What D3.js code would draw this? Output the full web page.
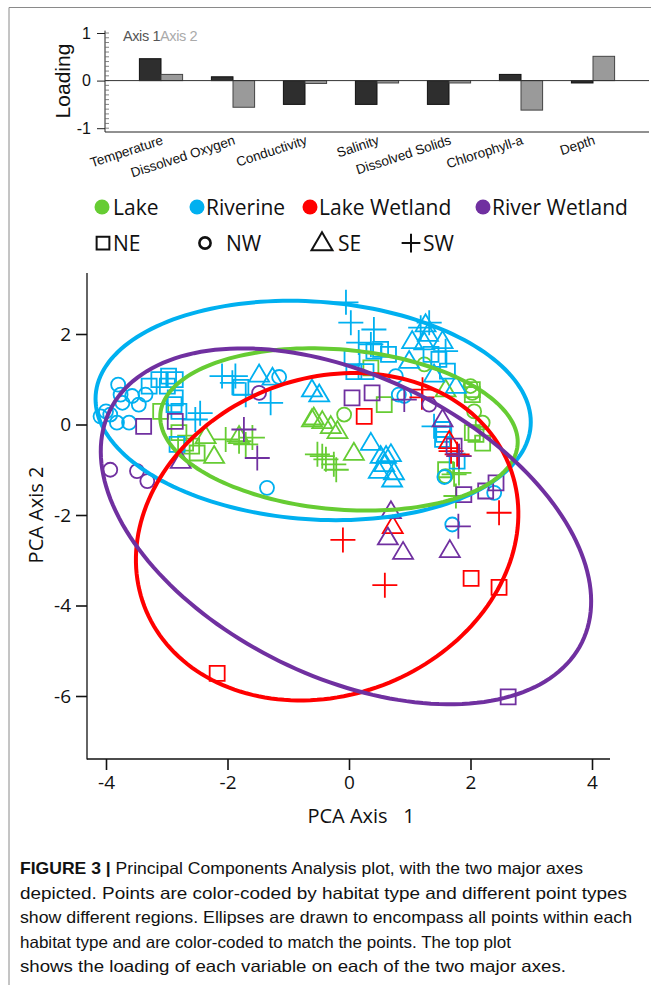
<!DOCTYPE html>
<head>
<meta charset="utf-8">
<title>PCA plot</title>
<script src="https://d3js.org/d3.v7.min.js"></script>
<style>
  body { margin: 0; background: #fff; }
  text { fill: #111; }
</style>
</head>
<body>
<div id="container"></div>
<script>
//------------------------------ DATA ------------------------------//
const loadVars = ["Temperature", "Dissolved Oxygen", "Conductivity", "Salinity",
                  "Dissolved Solids", "Chlorophyll-a", "Depth"];
const axis1Load = [0.46, 0.08, -0.50, -0.50, -0.50, 0.13, -0.05];
const axis2Load = [0.13, -0.56, -0.06, -0.05, -0.05, -0.62, 0.51];
const loadTicks = [-1, 0, 1];

const habitats = ["Lake", "Riverine", "Lake Wetland", "River Wetland"];
const regions = ["NE", "NW", "SE", "SW"];
const pcaTicks = [-4, -2, 0, 2, 4];
const pcaYTicks = [-6, -4, -2, 0, 2];

// [region, axis1, axis2]
const lakePts = [
  ["NW", -0.08, 0.22], ["NW", 1.24, 1.33], ["NW", 2.00, 0.85], ["NW", 2.03, 0.70],
  ["NW", 2.06, 0.29], ["NW", 2.20, 0.04], ["NW", 1.59, -1.14],
  ["NE", -3.10, 0.29], ["NE", -2.80, -0.18], ["NE", -2.69, -0.41], ["NE", -2.50, -0.63],
  ["NE", -2.59, -0.48], ["NE", 0.36, 1.25], ["NE", 0.58, 0.44], ["NE", 2.03, 0.66],
  ["NE", 2.20, -0.41], ["NE", 2.03, -0.18], ["NE", 1.59, -1.00], ["NE", 2.09, -0.22],
  ["NE", 2.03, 0.77],
  ["SE", -2.36, -0.26], ["SE", -2.22, -0.70], ["SE", -1.81, -0.26], ["SE", -0.58, 0.15],
  ["SE", -0.44, 0.07], ["SE", -0.30, -0.04], ["SE", -0.19, -0.15], ["SE", 0.08, -0.63],
  ["SE", 1.59, 0.77], ["SE", -0.61, 0.11],
  ["SW", -2.03, -0.33], ["SW", -1.81, -0.37], ["SW", -1.70, -0.44], ["SW", -1.59, -0.29],
  ["SW", -0.52, -0.66], ["SW", -0.38, -0.77], ["SW", -0.25, -0.88], ["SW", 1.81, -1.07],
  ["SW", 1.76, -1.58], ["SW", 1.73, -1.10], ["SW", -0.44, -0.70], ["SW", -0.21, -1.00]
];
const riverinePts = [
  ["NW", -3.80, 0.88], ["NW", -4.09, 0.18], ["NW", -3.93, 0.22], ["NW", -3.82, 0.04],
  ["NW", -3.62, 0.04], ["NW", -3.73, 0.48], ["NW", -3.57, 0.63], ["NW", -3.46, 0.44],
  ["NW", -3.35, 0.66], ["NW", -3.76, 0.66], ["NW", -4.00, 0.29], ["NW", -1.35, -1.40],
  ["NW", -1.15, 1.05], ["NW", 0.77, 1.07], ["NW", 0.91, 0.63], ["NW", 0.82, 0.66],
  ["NW", 1.57, -1.16], ["NW", 2.39, -1.51], ["NW", 1.70, -2.21],
  ["NE", -3.29, 0.85], ["NE", -3.13, 0.99], ["NE", -2.97, 1.07], ["NE", -2.86, 0.99],
  ["NE", -2.99, 0.85], ["NE", -2.86, 0.59], ["NE", -2.88, 0.44], ["NE", -2.80, 0.29],
  ["NE", -2.83, -0.44], ["NE", -1.78, 0.82], ["NE", 0.05, 1.47], ["NE", 0.52, 1.66],
  ["NE", 0.41, 1.62], ["NE", 0.08, 1.17], ["NE", 0.28, 1.17], ["NE", 1.48, 1.44],
  ["NE", 1.62, 1.18], ["NE", 1.54, -0.11], ["NE", 1.54, -0.33], ["NE", 1.56, -0.22],
  ["NE", 1.78, -0.81], ["NE", 0.65, 1.55], ["NE", 1.35, 1.55],
  ["SE", -1.48, 1.10], ["SE", -1.26, 1.03], ["SE", -0.61, 0.77], ["SE", -0.49, 0.66],
  ["SE", 1.26, 2.21], ["SE", 1.04, 1.84], ["SE", 1.24, 1.81], ["SE", 1.54, 1.84],
  ["SE", 0.99, 1.40], ["SE", 1.40, 1.10], ["SE", 1.76, 0.85], ["SE", 0.36, -0.41],
  ["SE", 0.52, -0.70], ["SE", 0.69, -0.66], ["SE", 0.49, -1.03], ["SE", 0.71, -1.22],
  ["SE", 0.58, -0.88], ["SE", 0.61, -0.70], ["SE", 0.74, -1.06], ["SE", 1.30, 2.00],
  ["SW", -2.53, 0.11], ["SW", -1.87, 1.07], ["SW", -1.92, 0.92], ["SW", -1.70, 0.66],
  ["SW", -1.29, 0.48], ["SW", -2.09, 1.07], ["SW", -0.05, 2.70], ["SW", 0.03, 2.25],
  ["SW", 0.41, 2.10], ["SW", 0.36, 1.77], ["SW", 1.32, 2.25], ["SW", 1.18, 2.14],
  ["SW", 1.59, 1.62], ["SW", 0.16, 1.81], ["SW", 1.40, -0.04], ["SW", -2.45, 0.25]
];
const lakeWetlandPts = [
  ["NE", 0.25, 0.18], ["NE", -2.17, -5.50], ["NE", 2.01, -3.40], ["NE", 2.47, -3.60],
  ["SE", 1.65, -0.37], ["SE", 0.72, -2.25],
  ["SW", 1.21, 0.77], ["SW", 1.20, 0.60], ["SW", 1.78, -0.66], ["SW", 1.68, -0.59],
  ["SW", 2.47, -1.95], ["SW", -0.10, -2.55], ["SW", 0.59, -3.55], ["SW", 1.81, -0.70]
];
const riverWetlandPts = [
  ["NE", -3.38, -0.04], ["NE", -2.86, 0.07], ["NE", 0.05, 0.59], ["NE", 0.38, 0.70],
  ["NE", 1.73, -0.48], ["NE", 1.89, -1.55], ["NE", 2.25, -1.47], ["NE", 2.42, -1.29],
  ["NE", 2.62, -6.02],
  ["NW", -3.93, -1.00], ["NW", -3.49, -1.03], ["NW", -3.32, -1.25], ["NW", -1.48, 0.70],
  ["NW", 1.32, 0.44],
  ["SE", -2.77, -0.81], ["SE", 1.54, 0.11], ["SE", 0.69, -1.92], ["SE", 0.64, -2.50],
  ["SE", 0.89, -2.82], ["SE", 1.66, -2.78],
  ["SW", -1.73, -0.11], ["SW", -1.51, -0.74], ["SW", 0.91, 0.55], ["SW", 1.81, -0.70],
  ["SW", 1.80, -2.25]
];
// ellipse: centre and two conjugate semi-axes, PCA units
const ellipses = [
  {hab: "Riverine",      c: [-0.59, 0.31],  u: [3.58, -0.34],  v: [-0.125, -2.40]},
  {hab: "Lake",          c: [-0.165, -0.11], u: [2.94, -0.345], v: [-0.115, -1.76]},
  {hab: "Lake Wetland",  c: [-0.36, -2.48], u: [3.09, 1.18],  v: [0.60, -3.42]},
  {hab: "River Wetland", c: [-0.05, -2.25],  u: [3.885, -2.564], v: [-1.094, -2.981]}
];
const captionLines = [
  "Principal Components Analysis plot, with the two major axes",
  "depicted. Points are color-coded by habitat type and different point types",
  "show different regions. Ellipses are drawn to encompass all points within each",
  "habitat type and are color-coded to match the points. The top plot",
  "shows the loading of each variable on each of the two major axes."
];

//------------------------------ SETUP -----------------------------//
const colour = d3.scaleOrdinal().domain(habitats)
    .range(["#66cc33", "#00b0f0", "#ff0000", "#7030a0"]);

const svg = d3.select("#container").append("svg")
    .attr("width", 652).attr("height", 985);

// frame
svg.append("path").attr("d", "M9,985V7.5H651")
    .attr("fill", "none").attr("stroke", "#8a8a8a").attr("stroke-width", 1);

//---------------------------- LOADINGS ----------------------------//
const arial = "'Liberation Sans', Arial, sans-serif";
const xL = d3.scaleBand().domain(loadVars).range([125, 629])
    .paddingInner(0.4).paddingOuter(0.2);
const xSub = d3.scaleBand().domain([0, 1]).range([0, xL.bandwidth()]);
const yL = d3.scaleLinear().domain([-1.08, 1]).range([132, 33]);

const topG = svg.append("g");
topG.append("line").attr("x1", 105).attr("x2", 105).attr("y1", yL(1.05)).attr("y2", yL(-1.08))
    .attr("stroke", "#222");
topG.append("line").attr("x1", 105).attr("x2", 649).attr("y1", yL(-1.08)).attr("y2", yL(-1.08))
    .attr("stroke", "#222");

const yAxL = topG.append("g").attr("transform", "translate(105,0)")
    .call(d3.axisLeft(yL).tickValues(loadTicks).tickFormat(d => String(d))
      .tickSize(8).tickPadding(6));
yAxL.select(".domain").remove();
yAxL.selectAll("text").attr("font-family", arial).attr("font-size", 16).attr("fill", "#111");
yAxL.selectAll("line").attr("stroke", "#222");
// minor ticks
topG.selectAll(".minor").data(d3.range(-10, 11).map(d => d / 10)).enter().append("line")
    .attr("x1", 105).attr("x2", 109)
    .attr("y1", d => yL(d)).attr("y2", d => yL(d))
    .attr("stroke", "#666").attr("stroke-width", 0.8);

const groups = topG.selectAll(".grp").data(loadVars).enter().append("g")
    .attr("transform", d => "translate(" + xL(d) + ",0)");
groups.append("rect")
    .attr("x", xSub(0)).attr("width", xSub.bandwidth())
    .attr("y", (d, i) => yL(Math.max(0, axis1Load[i])))
    .attr("height", (d, i) => Math.abs(yL(axis1Load[i]) - yL(0)))
    .attr("fill", "#2e2e2e").attr("stroke", "#111");
groups.append("rect")
    .attr("x", xSub(1)).attr("width", xSub.bandwidth())
    .attr("y", (d, i) => yL(Math.max(0, axis2Load[i])))
    .attr("height", (d, i) => Math.abs(yL(axis2Load[i]) - yL(0)))
    .attr("fill", "#9a9a9a").attr("stroke", "#444");

topG.append("line").attr("x1", 105).attr("x2", 649).attr("y1", yL(0)).attr("y2", yL(0))
    .attr("stroke", "#333");

groups.append("text")
    .attr("transform", d => "translate(" + (xL.bandwidth() / 2 + 3) + ",144) rotate(-18)")
    .attr("text-anchor", "end")
    .attr("font-family", arial).attr("font-size", 13.5)
    .text(d => d);

const lg = topG.append("text").attr("x", 123).attr("y", 41)
    .attr("font-family", arial).attr("font-size", 14.5).attr("letter-spacing", -0.4);
lg.append("tspan").attr("fill", "#555").text("Axis 1");
lg.append("tspan").attr("fill", "#aaa").text("Axis 2");

topG.append("text").attr("transform", "translate(70,81) rotate(-90)")
    .attr("text-anchor", "middle").attr("font-family", arial).attr("font-size", 21)
    .text("Loading");

//----------------------------- LEGEND -----------------------------//
const sans = "'Open Sans', 'Noto Sans', sans-serif";
const habX = [102, 197, 310, 483];
const legH = svg.append("g");
habitats.forEach(function(h, i) {
  legH.append("circle").attr("cx", habX[i]).attr("cy", 207).attr("r", 7.5)
      .attr("fill", colour(h));
  legH.append("text").attr("x", habX[i] + (i === 0 ? 11 : 9)).attr("y", 214.5)
      .attr("font-family", sans).attr("font-size", 21).text(h);
});

//----------------------------- SCATTER ----------------------------//
const xS = d3.scaleLinear().domain([-4, 4]).range([106, 592]);
const yS = d3.scaleLinear().domain([-6, 2]).range([696, 334]);

function shapePath(region, s) {
  // s: scale factor
  if (region === "NE") { const h = 7.5 * s; return `M${-h},${-h}H${h}V${h}H${-h}Z`; }
  if (region === "NW") { const r = 7 * s;
    return `M${r},0A${r},${r} 0 1,1 ${-r},0A${r},${r} 0 1,1 ${r},0Z`; }
  if (region === "SE") { const w = 10 * s, h = 17 * s;
    return `M0,${-h * 0.6}L${w},${h * 0.4}L${-w},${h * 0.4}Z`; }
  const a = 12.5 * s; return `M${-a},0H${a}M0,${-a}V${a}`;
}

const regX = [103, 205, 322, 411];
const regScale = [0.85, 0.8, 1.05, 0.75];
const legR = svg.append("g");
regions.forEach(function(r, i) {
  legR.append("path").attr("d", shapePath(r, regScale[i]))
      .attr("transform", "translate(" + regX[i] + ",243)")
      .attr("fill", "none").attr("stroke", "#111").attr("stroke-width", i === 1 ? 2.6 : 2);
  legR.append("text").attr("x", [113, 226, 338, 423][i]).attr("y", 250.5)
      .attr("font-family", sans).attr("font-size", 21).text(r);
});

const plot = svg.append("g");
const allPts = [
  ["Lake", lakePts], ["Riverine", riverinePts],
  ["Lake Wetland", lakeWetlandPts], ["River Wetland", riverWetlandPts]
];
allPts.forEach(function(p) {
  plot.append("g").selectAll("path").data(p[1]).enter().append("path")
      .attr("d", d => shapePath(d[0], 1))
      .attr("transform", d => "translate(" + xS(d[1]) + "," + yS(d[2]) + ")")
      .attr("fill", "none").attr("stroke", colour(p[0])).attr("stroke-width", 1.8);
});

const ell = d3.line().x(d => d[0]).y(d => d[1]).curve(d3.curveLinearClosed);
ellipses.forEach(function(e) {
  const pts = d3.range(0, 360, 2).map(function(a) {
    const t = a * Math.PI / 180;
    return [xS(e.c[0] + e.u[0] * Math.cos(t) + e.v[0] * Math.sin(t)),
            yS(e.c[1] + e.u[1] * Math.cos(t) + e.v[1] * Math.sin(t))];
  });
  plot.append("path").attr("d", ell(pts)).attr("fill", "none")
      .attr("stroke", colour(e.hab)).attr("stroke-width", 4);
});

// axes
svg.append("line").attr("x1", 87).attr("x2", 87).attr("y1", 273).attr("y2", 759.5).attr("stroke", "#111").attr("stroke-width", 1.3);
svg.append("line").attr("x1", 87).attr("x2", 610).attr("y1", 759).attr("y2", 759).attr("stroke", "#111").attr("stroke-width", 1.3);

const xAxS = svg.append("g").attr("transform", "translate(0,759)")
    .call(d3.axisBottom(xS).tickValues(pcaTicks).tickFormat(d => String(d))
      .tickSize(11).tickPadding(6));
xAxS.select(".domain").remove();
const yAxS = svg.append("g").attr("transform", "translate(87,0)")
    .call(d3.axisLeft(yS).tickValues(pcaYTicks).tickFormat(d => String(d))
      .tickSize(11).tickPadding(5));
yAxS.select(".domain").remove();
[xAxS, yAxS].forEach(function(a) {
  a.selectAll("line").attr("stroke", "#111").attr("stroke-width", 1.6);
  a.selectAll("text").attr("font-family", sans).attr("font-size", 19).attr("fill", "#111");
});

svg.append("text").attr("x", 361).attr("y", 823).attr("text-anchor", "middle")
    .attr("font-family", sans).attr("font-size", 20).style("white-space", "pre")
    .text("PCA Axis   1");
svg.append("text").attr("transform", "translate(43,515) rotate(-90)").attr("text-anchor", "middle")
    .attr("font-family", sans).attr("font-size", 20).text("PCA Axis 2");

//----------------------------- CAPTION ----------------------------//
const narrow = "'Liberation Sans Narrow', 'Liberation Sans', Arial, sans-serif";
const capLen = [563, 607, 612, 491, 546];
captionLines.forEach(function(l, i) {
  const t = svg.append("text").attr("x", 20).attr("y", 874 + i * 24.5)
      .attr("font-family", narrow).attr("font-size", 16.5)
      .attr("textLength", capLen[i]).attr("lengthAdjust", "spacingAndGlyphs");
  if (i === 0) t.append("tspan").attr("font-weight", "bold").text("FIGURE 3 | ");
  t.append("tspan").text(l);
});
</script>
</body>
